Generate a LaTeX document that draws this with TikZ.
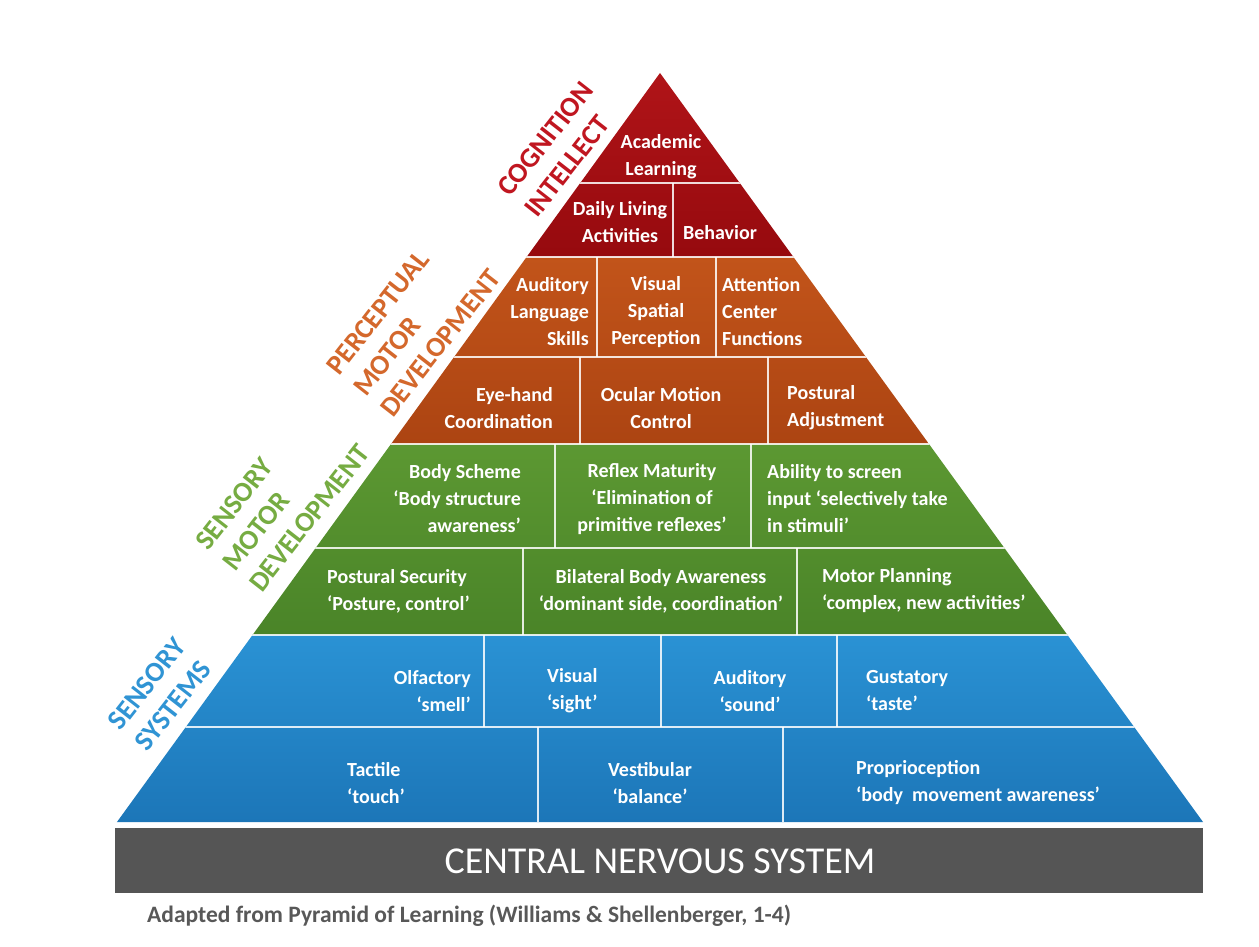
\documentclass[tikz,border=0pt]{standalone}
\usepackage{fontspec}
\setmainfont{Carlito}
\usetikzlibrary{calc}

\definecolor{pyrredtop}{RGB}{176,20,24}
\definecolor{pyrredbot}{RGB}{150,10,14}
\definecolor{pyrorangetop}{RGB}{194,84,26}
\definecolor{pyrorangebot}{RGB}{172,68,18}
\definecolor{pyrgreentop}{RGB}{92,152,50}
\definecolor{pyrgreenbot}{RGB}{74,132,40}
\definecolor{pyrbluetop}{RGB}{42,146,212}
\definecolor{pyrbluebot}{RGB}{28,118,184}
\definecolor{cnsgray}{RGB}{85,85,85}
\definecolor{labred}{RGB}{192,22,32}
\definecolor{laborange}{RGB}{212,104,44}
\definecolor{labgreen}{RGB}{118,172,66}
\definecolor{labblue}{RGB}{48,148,212}
\definecolor{captgray}{RGB}{88,88,88}

\begin{document}
\begin{tikzpicture}[x=1pt,y=-1pt,
    cell/.style={text=white,inner sep=0pt,font=\fontsize{20}{27}\selectfont\bfseries},
    sidelab/.style={inner sep=0pt,rotate=52,anchor=west,align=left,font=\fontsize{28}{34}\selectfont\bfseries},
    sep/.style={white,line width=2.5pt,opacity=.85}]
   % Page
   \useasboundingbox[fill=white] (0,0) rectangle (1259,947);
   % Pyramid geometry
   \def\APEXX{660}
   \def\APEXY{73}
   \def\SLOPE{.725}
   % Tiers
   \foreach \ya/\yb/\ctop/\cbot in {73/257/pyrredtop/pyrredbot,
                                    257/444/pyrorangetop/pyrorangebot,
                                    444/635/pyrgreentop/pyrgreenbot,
                                    635/822/pyrbluetop/pyrbluebot}{
      \pgfmathsetmacro\dxa{\SLOPE*(\ya-\APEXY)}
      \pgfmathsetmacro\dxb{\SLOPE*(\yb-\APEXY)}
      \shade [top color=\ctop,bottom color=\cbot]
         (\APEXX-\dxa,\ya) -- (\APEXX+\dxa,\ya) -- (\APEXX+\dxb,\yb) -- (\APEXX-\dxb,\yb) -- cycle;
   }
   % Cell borders
   \begin{scope}
      \clip (\APEXX,\APEXY) -- (1203,822) -- (117,822) -- cycle;
      \foreach \y in {183,257,357,444,548,635,727}
         \draw [sep] (0,\y) -- (1259,\y);
      \foreach \x/\ya/\yb in {673/183/257,
                              597/257/357, 716/257/357,
                              580/357/444, 768/357/444,
                              555/444/548, 751/444/548,
                              523/548/635, 797/548/635,
                              484/635/727, 661/635/727, 837/635/727,
                              538/727/822, 783/727/822}
         \draw [sep] (\x,\ya) -- (\x,\yb);
   \end{scope}
   % Cognition, intellect
   \node [cell,align=center] (acad) at (661,157) {Academic\\Learning};
   \node [cell,align=center] (daily) at (620,222) {Daily Living\\Activities};
   \node [cell] (behav) at (720,233) {Behavior};
   % Perceptual motor development
   \node [cell,align=right,anchor=east] (audit) at (589,312) {Auditory\\Language\\Skills};
   \node [cell,align=center] (vispat) at (656,312) {Visual\\Spatial\\Perception};
   \node [cell,align=left,anchor=west] (atten) at (722,312) {Attention\\Center\\Functions};
   \node [cell,align=right,anchor=east] (eyehand) at (553,408) {Eye-hand\\Coordination};
   \node [cell,align=center] (ocular) at (661,408) {Ocular Motion\\Control};
   \node [cell,align=left,anchor=west] (postadj) at (787,408) {Postural\\Adjustment};
   % Sensory motor development
   \node [cell,align=right,anchor=east] (body) at (521,499) {Body Scheme\\`Body structure\\awareness'};
   \node [cell,align=center] (reflex) at (652,499) {Reflex Maturity\\`Elimination of\\primitive reflexes'};
   \node [cell,align=left,anchor=west] (screen) at (767,499) {Ability to screen\\input `selectively take\\in stimuli'};
   \node [cell,align=left,anchor=west] (postsec) at (327,591) {Postural Security\\`Posture, control'};
   \node [cell,align=center] (bilat) at (661,591) {Bilateral Body Awareness\\`dominant side, coordination'};
   \node [cell,align=left,anchor=west] (motplan) at (822,591) {Motor Planning\\`complex, new activities'};
   % Sensory systems
   \node [cell,align=right,anchor=east] (olfac) at (471,691) {Olfactory\\`smell'};
   \node [cell,align=left,anchor=west] (visual) at (547,691) {Visual\\`sight'};
   \node [cell,align=center] (audsnd) at (750,691) {Auditory\\`sound'};
   \node [cell,align=left,anchor=west] (gust) at (866,691) {Gustatory\\`taste'};
   \node [cell,align=left,anchor=west] (tact) at (347,783) {Tactile\\`touch'};
   \node [cell,align=center] (vestib) at (650,783) {Vestibular\\`balance'};
   \node [cell,align=left,anchor=west] (propr) at (856,783) {Proprioception\\`body\ \ movement awareness'};
   % Side labels
   \node [sidelab,text=labred] (lcogn) at (517,203) {COGNITION\\INTELLECT};
   \node [sidelab,text=laborange] (lperc) at (359,392) {PERCEPTUAL\\MOTOR\\DEVELOPMENT};
   \node [sidelab,text=labgreen] (lsens) at (228,567) {SENSORY\\MOTOR\\DEVELOPMENT};
   \node [sidelab,text=labblue] (lsyst) at (127,737) {SENSORY\\SYSTEMS};
   % Base
   \fill [cnsgray] (115,828) rectangle (1203,893);
   \node [text=white,inner sep=0pt,font=\fontsize{38}{40}\selectfont] (cns) at (660,861) {CENTRAL NERVOUS SYSTEM};
   % Source
   \node [text=captgray,inner sep=0pt,anchor=west,font=\fontsize{23.5}{26}\selectfont\bfseries] (source) at (147,916)
      {Adapted from Pyramid of Learning (Williams \& Shellenberger, 1-4)};
\end{tikzpicture}
\end{document}
